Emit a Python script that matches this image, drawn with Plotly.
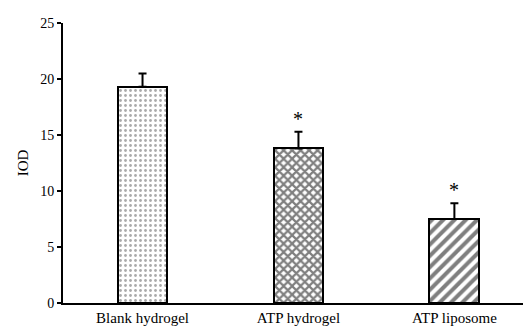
import plotly.graph_objects as go

categories = ["Blank hydrogel", "ATP hydrogel", "ATP liposome"]
values = [19.3, 13.8, 7.5]
errors = [1.2, 1.5, 1.4]
significant = [False, True, True]
patterns = [".", "x", "/"]
pattern_colors = ["#555555", "#000000", "#000000"]
pattern_sizes = [5, 6, 8]
pattern_solidity = [0.25, 0.6, 0.5]

fig = go.Figure()
for i, c in enumerate(categories):
    fig.add_trace(go.Bar(
        x=[i], y=[values[i]], width=0.32,
        marker=dict(color="white", line=dict(color="black", width=2),
                    pattern=dict(shape=patterns[i], fgcolor=pattern_colors[i],
                                 bgcolor="white", size=pattern_sizes[i],
                                 solidity=pattern_solidity[i])),
        error_y=dict(type="data", symmetric=False, array=[errors[i]], arrayminus=[0],
                     color="black", thickness=2, width=4),
        showlegend=False,
    ))
    if significant[i]:
        fig.add_annotation(x=i, y=values[i] + errors[i], text="*", showarrow=False,
                           yanchor="bottom", yshift=0,
                           font=dict(family="Liberation Serif", size=20, color="black"))

fig.update_layout(
    width=524, height=331,
    margin=dict(l=63, r=1, t=23, b=28),
    paper_bgcolor="white", plot_bgcolor="white",
    font=dict(family="Liberation Serif", size=14, color="black"),
    xaxis=dict(range=[-0.51, 2.44], tickvals=[0, 1, 2], ticktext=categories,
               showline=True, linecolor="black", linewidth=2, showgrid=False,
               zeroline=False, ticks="", tickfont=dict(size=15)),
    yaxis=dict(range=[0, 25], tickvals=[0, 5, 10, 15, 20, 25], showline=True,
               linecolor="black", linewidth=2, showgrid=False, zeroline=False,
               ticks="outside", ticklen=4, tickwidth=1.5, tickcolor="black",
               title=dict(text="IOD", font=dict(size=15), standoff=8),
               tickfont=dict(size=14)),
    bargap=0,
)

fig.write_html("out.html")
